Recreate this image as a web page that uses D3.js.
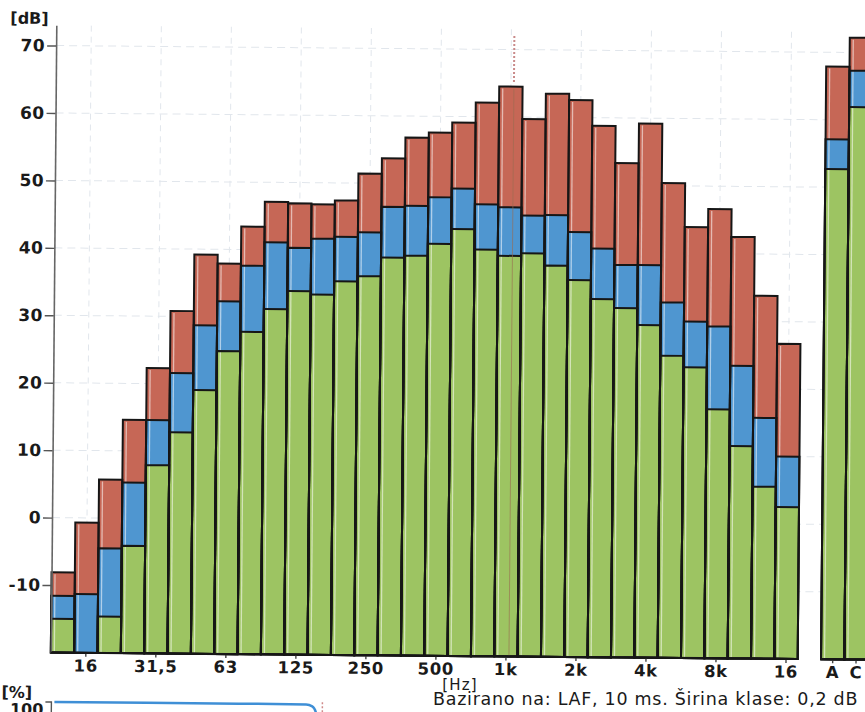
<!DOCTYPE html>
<html><head><meta charset="utf-8">
<script src="https://cdn.jsdelivr.net/npm/d3@7"></script>
<style>html,body{margin:0;padding:0;background:#fff;overflow:hidden}svg{display:block}</style>
</head><body>
<svg id="chart" width="865" height="712"></svg>
<script>
// 1/3-octave bands, then the broadband A and C totals
const bands = ["12.5","16","20","25","31.5","40","50","63","80","100","125","160","200","250","315","400","500","630","800","1k","1.25k","1.6k","2k","2.5k","3.15k","4k","5k","6.3k","8k","10k","12.5k","16k"];
const totals = ["A","C"];
const categories = bands.concat(totals);

// levels in dB (red = upper level, blue = middle level, green = lower level)
const redLevels   = [-8.1,-0.7,5.7,14.6,22.3,30.8,39.2,37.9,43.4,47.1,46.9,46.8,47.4,51.4,53.7,56.8,57.6,59.1,62.1,64.5,59.7,63.5,62.6,58.8,53.3,59.2,50.4,43.9,46.6,42.5,33.8,26.7, 67.9,72.2];
const blueLevels  = [-11.6,-11.3,-4.5,5.3,14.6,21.6,28.7,32.3,37.6,41.1,40.3,41.7,42.0,42.7,46.5,46.7,48.0,49.3,47.0,46.6,45.4,45.5,43.0,40.6,38.2,38.2,32.7,29.9,29.2,23.4,15.7,10.0, 57.1,67.3];
const greenLevels = [-15.0,-20,-14.6,-4.1,7.9,12.8,19.1,24.9,27.8,31.2,33.9,33.4,35.4,36.2,39.0,39.3,41.1,43.3,40.3,39.4,39.8,38.0,35.9,33.1,31.8,29.3,24.8,23.1,16.9,11.5,5.5,2.5, 52.7,61.9];

// axis ticks
const yTicks = [-10,0,10,20,30,40,50,60,70];
const xTickKeys   = ["16","31.5","63","125","250","500","1k","2k","4k","8k","16k","A","C"];
const xTickLabels = ["16","31,5","63","125","250","500","1k","2k","4k","8k","16","A","C"];
const cursorBand = "1k";

// partially visible lower chart (cumulative distribution)
const distLevel = [0, 30, 41, 42, 42.6, 43];
const distPct   = [100, 100, 99.8, 99, 96, 90];

const colors = {red:"#c66756", blue:"#4f96d0", green:"#9dc462"};
const FONT = "'DejaVu Sans', Verdana, sans-serif";

const svg = d3.select("#chart");
const root = svg.append("g").attr("transform","rotate(0.5,52,519)");

const slots = bands.concat(["gap"], totals);
const x = d3.scaleBand().domain(slots).range([52, 52 + 35*23.34]).padding(0);
const y = d3.scaleLinear().domain([-20, 73]).range([652.5, 25.3]);
const bw = x.bandwidth();
const yBase = y(-20);

// grid
const grid = root.append("g");
grid.selectAll("line.h").data(yTicks).join("line")
  .attr("x1", x("12.5")).attr("x2", x("C")+bw)
  .attr("y1", d=>y(d)).attr("y2", d=>y(d))
  .attr("stroke","#e1e6ec").attr("stroke-width",1).attr("stroke-dasharray","8,5");
grid.selectAll("line.v").data(xTickKeys.slice(0,11)).join("line")
  .attr("x1", d=>x(d)+bw/2).attr("x2", d=>x(d)+bw/2)
  .attr("y1", y(73)).attr("y2", yBase)
  .attr("stroke","#e1e6ec").attr("stroke-width",1).attr("stroke-dasharray","6,5");

// bars
const series = [
  {name:"red", vals:redLevels},
  {name:"blue", vals:blueLevels},
  {name:"green", vals:greenLevels}
];
const bars = root.append("g");
series.forEach(s=>{
  bars.append("g").selectAll("rect").data(categories).join("rect")
    .attr("x", c=>x(c)).attr("width", bw)
    .attr("y", (c,i)=>y(s.vals[i])).attr("height",(c,i)=>yBase - y(s.vals[i]))
    .attr("fill", colors[s.name]);
});
// light highlight stripe
bars.append("g").selectAll("line").data(categories).join("line")
  .attr("x1", c=>x(c)+3.5).attr("x2", c=>x(c)+3.5)
  .attr("y1", (c,i)=>y(redLevels[i])+2).attr("y2", yBase-1)
  .attr("stroke","#fff").attr("stroke-opacity",0.55).attr("stroke-width",1.3);
// outlines
series.forEach(s=>{
  bars.append("g").selectAll("rect").data(categories).join("rect")
    .attr("x", c=>x(c)).attr("width", bw)
    .attr("y", (c,i)=>y(s.vals[i])).attr("height",(c,i)=>yBase - y(s.vals[i]))
    .attr("fill","none").attr("stroke","#161616").attr("stroke-width",2);
});

// cursor line at 1 kHz
const ci = categories.indexOf(cursorBand);
const cx = x(cursorBand) + bw/2 + 3;
root.append("line").attr("x1",cx).attr("x2",cx).attr("y1",y(72)).attr("y2",y(redLevels[ci])-3)
  .attr("stroke","#c98a8a").attr("stroke-width",2).attr("stroke-dasharray","2,2");
root.append("line").attr("x1",cx).attr("x2",cx).attr("y1",y(redLevels[ci])+2).attr("y2",yBase-1)
  .attr("stroke","#9a6a50").attr("stroke-width",1).attr("stroke-opacity",0.6);

// y axis
const yAxis = root.append("g").attr("transform",`translate(${x("12.5")},0)`)
  .call(d3.axisLeft(y).tickValues(yTicks).tickSize(9).tickPadding(2).tickSizeOuter(0).tickFormat(d=>String(d)));
yAxis.select(".domain").attr("stroke","#666").attr("stroke-width",1.6);
yAxis.selectAll(".tick line").attr("stroke","#555").attr("stroke-width",1.4);
yAxis.selectAll(".tick text").attr("font-family",FONT).attr("font-size",17).attr("font-weight","bold")
  .attr("letter-spacing",0.4).attr("fill","#1a1a1a");

// x axis (ticks only) + baselines
const xAxis = root.append("g").attr("transform",`translate(0,${yBase})`)
  .call(d3.axisBottom(x).tickValues(xTickKeys).tickSize(4).tickPadding(3)
    .tickFormat(d=>xTickLabels[xTickKeys.indexOf(d)]));
xAxis.select(".domain").remove();
xAxis.selectAll(".tick line").attr("stroke","#444").attr("stroke-width",1.4);
xAxis.selectAll(".tick text").attr("font-family",FONT).attr("font-size",16.5).attr("font-weight","bold")
  .attr("letter-spacing",0.7).attr("fill","#1a1a1a");
root.append("line").attr("x1",x("12.5")).attr("x2",x("16k")+bw).attr("y1",yBase).attr("y2",yBase)
  .attr("stroke","#161616").attr("stroke-width",2.2);
root.append("line").attr("x1",x("A")).attr("x2",x("C")+bw).attr("y1",yBase).attr("y2",yBase)
  .attr("stroke","#161616").attr("stroke-width",2.2);

// unit labels
root.append("text").attr("x",6).attr("y",24).text("[dB]")
  .attr("font-family",FONT).attr("font-size",16).attr("font-weight","bold").attr("fill","#1a1a1a");
svg.append("text").attr("x",460).attr("y",689.5).attr("text-anchor","middle").text("[Hz]")
  .attr("font-family",FONT).attr("font-size",15).attr("letter-spacing",1.2).attr("fill","#1a1a1a");
svg.append("text").attr("x",433).attr("y",704.5).text("Bazirano na: LAF, 10 ms. Širina klase: 0,2 dB")
  .attr("font-family",FONT).attr("font-size",17.5).attr("letter-spacing",0.72).attr("fill","#1a1a1a");

// lower chart (cut off)
const lx = d3.scaleLinear().domain([0,43]).range([56,320]);
const ly = d3.scaleLinear().domain([0,100]).range([902,702]);
root.append("text").attr("x",3).attr("y",698).text("[%]")
  .attr("font-family",FONT).attr("font-size",16).attr("font-weight","bold").attr("fill","#1a1a1a");
root.append("text").attr("x",45).attr("y",715).attr("text-anchor","end").text("100")
  .attr("font-family",FONT).attr("font-size",16).attr("font-weight","bold").attr("fill","#1a1a1a");
root.append("path").attr("d",`M47,${ly(100)}H${lx(0)-3}V720`).attr("fill","none").attr("stroke","#555").attr("stroke-width",1.4);
root.append("path").datum(distLevel.map((d,i)=>[d,distPct[i]]))
  .attr("d", d3.line().x(d=>lx(d[0])).y(d=>ly(d[1])).curve(d3.curveMonotoneX))
  .attr("fill","none").attr("stroke","#3f8fd6").attr("stroke-width",2.5);
root.append("line").attr("x1",324).attr("x2",324).attr("y1",700).attr("y2",712)
  .attr("stroke","#d08a8a").attr("stroke-width",1.5).attr("stroke-dasharray","2,2");
</script>
</body></html>
